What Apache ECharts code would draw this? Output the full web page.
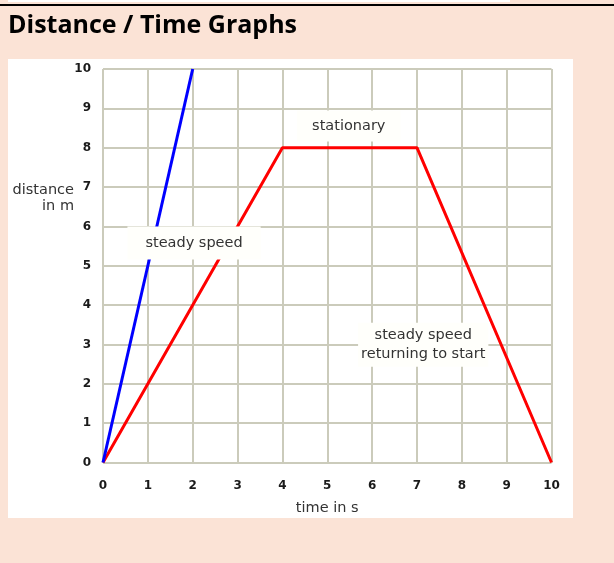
<!DOCTYPE html>
<html><head><meta charset="utf-8">
<script src="https://cdn.jsdelivr.net/npm/echarts@6/dist/echarts.min.js"></script>
<style>html,body{margin:0;padding:0;background:#fbe3d6;}#c{width:614px;height:563px;}</style>
</head><body><div id="c"></div>
<script>
const xTicks = [0,1,2,3,4,5,6,7,8,9,10];
const yTicks = [0,1,2,3,4,5,6,7,8,9,10];
const redTime = [0, 4, 7, 10];
const redDist = [0, 8, 8, 0];
const blueTime = [0, 2];
const blueDist = [0, 10];
const noteText = ['stationary', 'steady speed', 'steady speed\nreturning to start'];
const noteX = [5.48, 2.03, 7.14];
const noteY = [8.55, 5.58, 2.99];
const title = 'Distance / Time Graphs';
const xName = 'time in s';
const yName = 'distance\nin m';

// styling only
const notePadding = [[6, 15], [7, 18], [3, 3]];

const chart = echarts.init(document.getElementById('c'));
const lbl = {fontFamily:'DejaVu Sans', fontWeight:'bold', fontSize:12, color:'#1a1a1a'};
chart.setOption({
  backgroundColor: '#fbe3d6',
  animation: false,
  graphic: [
    {type:'rect', shape:{x:8,y:0,width:502,height:2}, style:{fill:'#fff'}, z:-1},
    {type:'rect', shape:{x:0,y:4,width:614,height:2}, style:{fill:'#000'}, z:-1},
    {type:'rect', shape:{x:8,y:59,width:565,height:459}, style:{fill:'#fff'}, z:-10},
    {type:'text', x:8, y:26, style:{text:title, font:'bold 25px "Open Sans"', fill:'#000', verticalAlign:'middle'}},
    {type:'text', x:74, y:198, style:{text:yName, font:'14.5px "DejaVu Sans"', fill:'#333', align:'right', verticalAlign:'middle', lineHeight:16}}
  ],
  grid: {left:103, right:62.5, top:69, bottom:100.5, containLabel:false},
  xAxis: {
    type:'value', min:0, max:10, interval:1,
    name: xName, nameLocation:'middle', nameGap:38,
    nameTextStyle:{fontFamily:'DejaVu Sans', fontSize:14.5, color:'#333'},
    axisLine:{show:false}, axisTick:{show:false},
    axisLabel: Object.assign({margin:17, formatter: v => xTicks.includes(v) ? String(v) : ''}, lbl),
    splitLine:{show:true, lineStyle:{color:'#cbcbbb', width:2}}
  },
  yAxis: {
    type:'value', min:0, max:10, interval:1,
    axisLine:{show:false}, axisTick:{show:false},
    axisLabel: Object.assign({margin:12, formatter: v => yTicks.includes(v) ? String(v) : ''}, lbl),
    splitLine:{show:true, lineStyle:{color:'#cbcbbb', width:2}}
  },
  series: [
    {type:'line', data: redTime.map((t,i)=>[t, redDist[i]]), symbol:'none',
     lineStyle:{color:'#ff0000', width:3}, z:3},
    {type:'line', data: blueTime.map((t,i)=>[t, blueDist[i]]), symbol:'none',
     lineStyle:{color:'#0000ff', width:3}, z:3},
    {type:'scatter', symbolSize:0, z:10, itemStyle:{opacity:1},
     data: noteText.map((t,i)=>({value:[noteX[i], noteY[i]], name:t, label:{padding:notePadding[i]}})),
     label:{show:true, position:'inside', formatter: p => p.name,
       fontFamily:'DejaVu Sans', fontSize:14.5, color:'#333', lineHeight:19,
       backgroundColor:'#fffffb', opacity:1},
     emphasis:{disabled:true}}
  ]
});
</script></body></html>
